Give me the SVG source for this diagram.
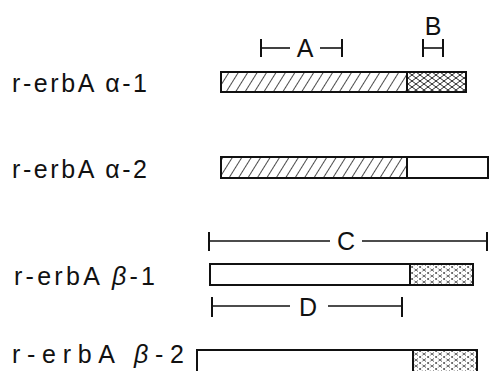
<svg xmlns="http://www.w3.org/2000/svg" width="490" height="371" viewBox="0 0 490 371">
  <style>
    .lbl { font-family: "Liberation Sans", Arial, sans-serif; font-size: 25px; fill: #111; }
    .dim { font-family: "Liberation Sans", Arial, sans-serif; font-size: 25px; fill: #111; text-anchor: middle; }
    .bar { fill: none; stroke: #111; stroke-width: 2; }
    .seg { stroke: #111; stroke-width: 1.6; fill: none; }
    .tick { stroke: #111; stroke-width: 2; fill: none; }
  </style>
  <defs>
    <!-- diagonal hatching for region A -->
    <pattern id="hatch" patternUnits="userSpaceOnUse" width="8" height="8" patternTransform="rotate(32)">
      <line x1="0" y1="-1" x2="0" y2="9" stroke="#111" stroke-width="1.5"/>
    </pattern>
    <!-- fine lattice for region B -->
    <pattern id="lattice" patternUnits="userSpaceOnUse" width="8" height="6">
      <path d="M0,0 L8,6 M0,6 L8,0" stroke="#111" stroke-width="0.9" fill="none"/>
    </pattern>
    <!-- lighter, broken lattice used on the beta forms -->
    <pattern id="lattice2" patternUnits="userSpaceOnUse" width="8" height="6">
      <path d="M0,0 L8,6 M0,6 L8,0" stroke="#333" stroke-width="0.8" stroke-dasharray="2.5 1.5" fill="none"/>
    </pattern>
  </defs>

  <!-- row labels -->
  <g id="label-a1"><text class="lbl" x="12" y="92" textLength="135" lengthAdjust="spacing">r-erbA α-1</text></g>
  <g id="label-a2"><text class="lbl" x="12" y="178" textLength="135" lengthAdjust="spacing">r-erbA α-2</text></g>
  <g id="label-b1"><text class="lbl" x="14" y="285" textLength="141" lengthAdjust="spacing">r-erbA <tspan font-style="italic">β</tspan>-1</text></g>
  <g id="label-b2"><text class="lbl" x="12" y="363" textLength="172" lengthAdjust="spacing">r-erbA <tspan font-style="italic">β</tspan>-2</text></g>

  <!-- alpha-1 -->
  <g id="bar-a1">
    <rect x="221" y="72" width="186" height="20" fill="url(#hatch)"/>
    <rect x="407" y="72" width="59" height="20" fill="url(#lattice)"/>
    <line class="bar" x1="407" y1="72" x2="407" y2="92"/>
    <rect class="bar" x="221" y="72" width="245" height="20"/>
  </g>

  <!-- alpha-2 -->
  <g id="bar-a2">
    <rect x="221" y="157" width="186" height="21" fill="url(#hatch)"/>
    <line class="bar" x1="407" y1="157" x2="407" y2="178"/>
    <rect class="bar" x="221" y="157" width="267" height="21"/>
  </g>

  <!-- beta-1 -->
  <g id="bar-b1">
    <rect x="410" y="264" width="63" height="21" fill="url(#lattice2)"/>
    <line class="bar" x1="410" y1="264" x2="410" y2="285"/>
    <rect class="bar" x="210" y="264" width="263" height="21"/>
  </g>

  <!-- beta-2 -->
  <g id="bar-b2">
    <rect x="413" y="350" width="64" height="21" fill="url(#lattice2)"/>
    <line class="bar" x1="413" y1="350" x2="413" y2="371"/>
    <rect class="bar" x="197" y="350" width="280" height="22"/>
  </g>

  <!-- dimension brackets -->
  <g id="connectors">
    <g id="dim-A">
      <line class="tick" x1="261" y1="39" x2="261" y2="57"/>
      <line class="seg" x1="261" y1="48" x2="290" y2="48"/>
      <line class="seg" x1="320" y1="48" x2="342" y2="48"/>
      <line class="tick" x1="342" y1="39" x2="342" y2="57"/>
    </g>
    <g id="dim-B">
      <line class="tick" x1="423" y1="39" x2="423" y2="57"/>
      <line class="seg" x1="423" y1="48" x2="443" y2="48"/>
      <line class="tick" x1="443" y1="39" x2="443" y2="57"/>
    </g>
    <g id="dim-C">
      <line class="tick" x1="209" y1="232" x2="209" y2="251"/>
      <line class="seg" x1="209" y1="241" x2="330" y2="241"/>
      <line class="seg" x1="362" y1="241" x2="487" y2="241"/>
      <line class="tick" x1="487" y1="232" x2="487" y2="251"/>
    </g>
    <g id="dim-D">
      <line class="tick" x1="212" y1="297" x2="212" y2="317"/>
      <line class="seg" x1="212" y1="306" x2="290" y2="306"/>
      <line class="seg" x1="328" y1="306" x2="402" y2="306"/>
      <line class="tick" x1="402" y1="297" x2="402" y2="317"/>
    </g>
  </g>

  <!-- dimension letters -->
  <g id="letters">
    <text class="dim" x="305" y="57">A</text>
    <text class="dim" x="433" y="35">B</text>
    <text class="dim" x="346" y="250">C</text>
    <text class="dim" x="308" y="316">D</text>
  </g>
</svg>
